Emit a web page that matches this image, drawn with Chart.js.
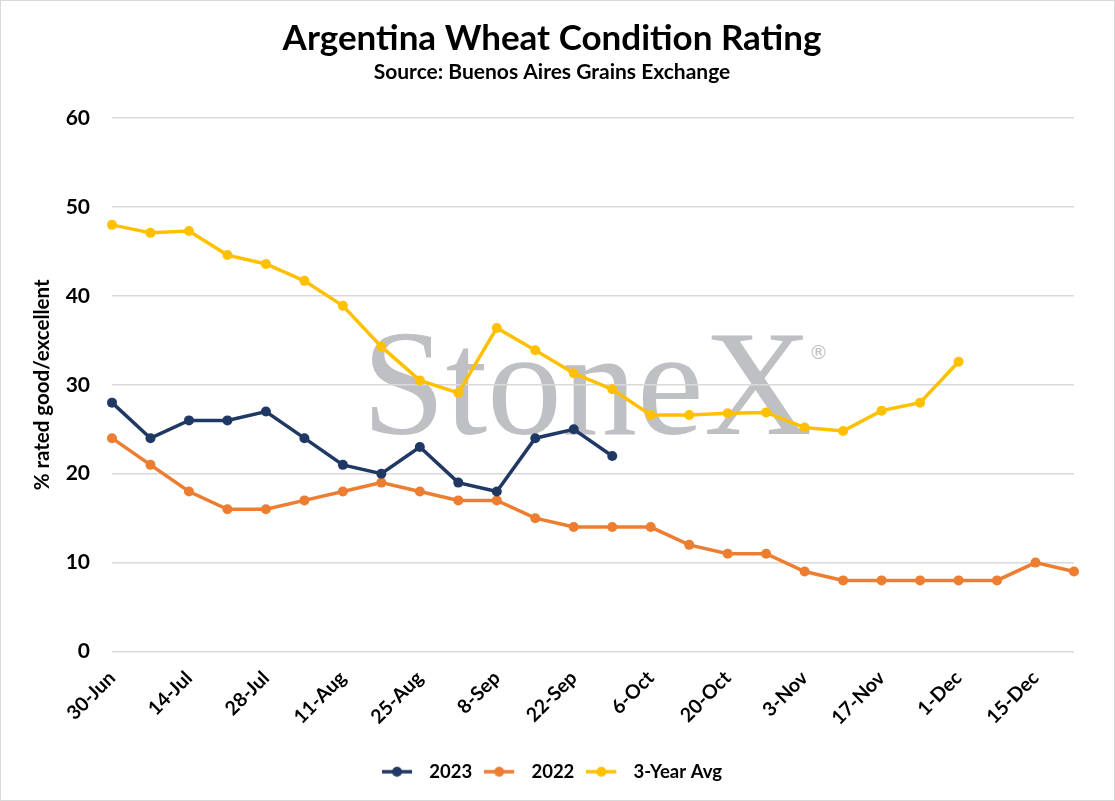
<!DOCTYPE html>
<html>
<head>
<meta charset="utf-8">
<script src="https://cdn.jsdelivr.net/npm/chart.js@4.4.1/dist/chart.umd.min.js"></script>
<style>
html,body{margin:0;padding:0;background:#fff;}
#wrap{width:1115px;height:801px;position:relative;}
</style>
</head>
<body>
<div id="wrap"><canvas id="chart"></canvas></div>
<script>
// weekly categories, 30-Jun .. 22-Dec
const weeks = ['30-Jun','7-Jul','14-Jul','21-Jul','28-Jul','4-Aug','11-Aug','18-Aug','25-Aug','1-Sep',
  '8-Sep','15-Sep','22-Sep','29-Sep','6-Oct','13-Oct','20-Oct','27-Oct','3-Nov','10-Nov',
  '17-Nov','24-Nov','1-Dec','8-Dec','15-Dec','22-Dec'];
const rating2023 = [28,24,26,26,27,24,21,20,23,19,18,24,25,22];
const rating2022 = [24,21,18,16,16,17,18,19,18,17,17,15,14,14,14,12,11,11,9,8,8,8,8,8,10,9];
const avg3yr = [48,47.1,47.3,44.6,43.6,41.7,38.9,34.3,30.5,29.1,36.4,33.9,31.3,29.5,26.6,26.6,26.8,26.9,25.2,24.8,27.1,28,32.6];
const yTicks = [0,10,20,30,40,50,60];

const FONT = 'Lato';
const C2023 = '#203864', C2022 = '#ed7d31', CAVG = '#ffc000';

// legend marker: short line with a dot
function legendMark(color){
  const c = document.createElement('canvas');
  c.width = 38; c.height = 14;
  const g = c.getContext('2d');
  g.strokeStyle = color; g.lineWidth = 3.5;
  g.beginPath(); g.moveTo(0,7); g.lineTo(30,7); g.stroke();
  g.fillStyle = color;
  g.beginPath(); g.arc(15,7,5,0,Math.PI*2); g.fill();
  return c;
}

const watermark = {
  id:'watermark',
  beforeDraw(chart){
    const ctx = chart.ctx;
    ctx.save();
    ctx.fillStyle = '#fff';
    ctx.fillRect(0,0,chart.width,chart.height);
    ctx.strokeStyle = '#d9d9d9'; ctx.lineWidth = 1;
    ctx.strokeRect(0.5,0.5,chart.width-1,chart.height-1);
    ctx.fillStyle = '#bfc0c4';
    ctx.textBaseline = 'alphabetic';
    ctx.font = '150px "Liberation Serif"';
    ctx.fillText('StoneX',362,434);
    ctx.font = '19px "DejaVu Sans"';
    ctx.fillText('\u00AE',809,359);
    ctx.restore();
  }
};

function ds(label,data,color){
  return {label,data,borderColor:color,backgroundColor:color,borderWidth:3.5,
    pointRadius:5,pointHoverRadius:5,pointBackgroundColor:color,pointBorderWidth:0,
    tension:0,fill:false,pointStyle:'circle'};
}

new Chart(document.getElementById('chart'),{
  type:'line',
  data:{labels:weeks,datasets:[ds('2023',rating2023,C2023),ds('2022',rating2022,C2022),ds('3-Year Avg',avg3yr,CAVG)]},
  options:{
    responsive:true,maintainAspectRatio:false,animation:false,
    layout:{padding:{left:30,right:41,top:0,bottom:10}},
    plugins:{
      title:{display:true,text:'Argentina Wheat Condition Rating',color:'#000',
        font:{family:FONT,size:35,weight:'bold'},padding:{top:18,bottom:0}},
      subtitle:{display:true,text:'Source: Buenos Aires Grains Exchange',color:'#000',
        font:{family:FONT,size:21,weight:'bold'},padding:{top:0,bottom:33}},
      legend:{position:'bottom',
        labels:{usePointStyle:true,pointStyleWidth:38,color:'#000',font:{family:FONT,size:18.5,weight:'bold'},padding:12,
          generateLabels(chart){
            return chart.data.datasets.map((d,i)=>({text:d.label,pointStyle:legendMark(d.borderColor),
              fillStyle:d.borderColor,strokeStyle:d.borderColor,lineWidth:0,hidden:false,datasetIndex:i,fontColor:'#000'}));
          }}},
      tooltip:{enabled:false}
    },
    scales:{
      x:{offset:false,grid:{display:false},border:{display:false},
        ticks:{autoSkip:false,maxRotation:45,minRotation:45,color:'#000',padding:7,
          font:{family:FONT,size:19.5,weight:'bold'},
          callback:(v,i)=> i%2===0 ? weeks[i] : ''},
        afterFit(s){ s.height = 99; }},
      y:{min:0,max:60,
        afterBuildTicks(s){ s.ticks = yTicks.map(v=>({value:v})); },
        grid:{color:'#d9d9d9',lineWidth:1.5,drawTicks:false},border:{display:false},
        ticks:{color:'#000',padding:22,font:{family:FONT,size:21,weight:'bold'}},
        title:{display:true,text:'% rated good/excellent',color:'#000',font:{family:FONT,size:20.5,weight:'bold'},padding:{top:0,bottom:0}},
        afterFit(s){ s.width = 82; }}
    }
  },
  plugins:[watermark]
});
</script>
</body>
</html>
